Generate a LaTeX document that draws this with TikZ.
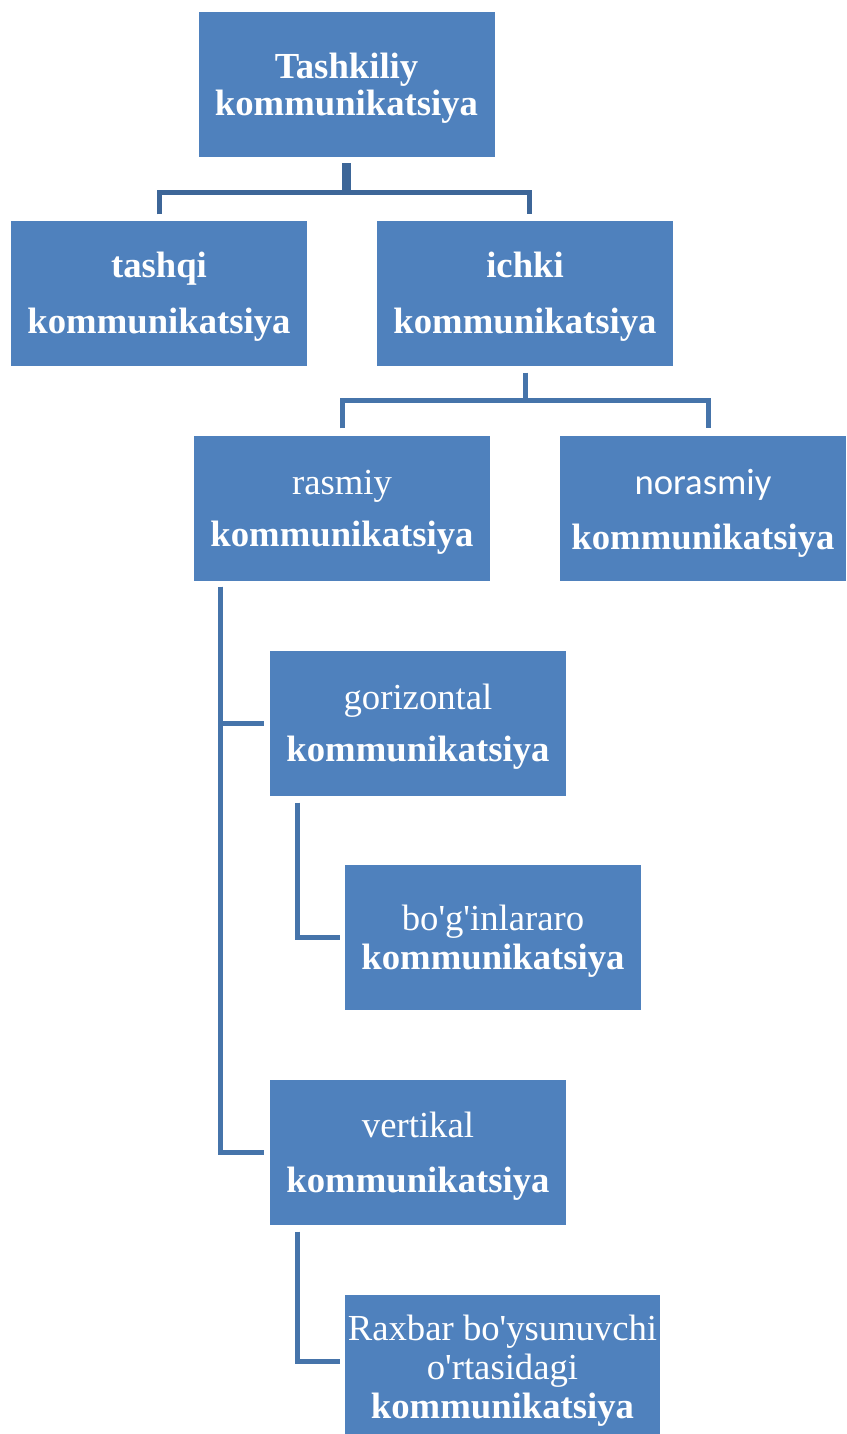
\documentclass[tikz,border=0pt]{standalone}
\usepackage{fontspec}
\setmainfont{Liberation Serif}
\newfontfamily\calibrifont{Carlito}
\definecolor{boxblue}{HTML}{4F81BD}
\definecolor{linkblue}{HTML}{4674AA}
\definecolor{trunkblue}{HTML}{3D6698}
\tikzset{
  box/.style={fill=boxblue, draw=none, text=white, inner sep=0pt,
    minimum width=296pt, minimum height=145pt, align=center,
    font=\fontsize{36.7pt}{#1}\selectfont},
  box/.default=39pt,
  link/.style={draw=linkblue, line width=5pt, line join=miter},
  toplink/.style={draw=trunkblue, line width=5pt, line join=miter},
}
\newcommand{\kw}{\textbf{kommunikatsiya}}
\newcommand{\q}{\textquotesingle}
% invisible strut on the first line, lowers the text block a little
\newcommand{\fl}[1][33pt]{\rule{0pt}{#1}}
\begin{document}
\begin{tikzpicture}[x=1pt,y=-1pt]
\useasboundingbox (0,0) rectangle (846,1434);

% boxes
\node[box=37pt] (top) at (346.5,84.5) {\fl\textbf{Tashkiliy}\\\kw};
\node[box=56pt] (tashqi) at (159,293) {\fl\textbf{tashqi}\\\kw};
\node[box=56pt] (ichki) at (525,293) {\fl\textbf{ichki}\\\kw};
\node[box=52pt] (rasmiy) at (342,508) {\fl rasmiy\\\kw};
\node[box=55pt, minimum width=286pt] (norasmiy) at (703,508) {\fl[35pt]{\calibrifont norasmiy}\\\kw};
\node[box=52pt] (gorizontal) at (418,723) {\fl gorizontal\\\kw};
\node[box=39pt] (bog) at (493,937) {\fl bo\q g\q inlararo\\\kw};
\node[box=55pt] (vertikal) at (418,1152) {\fl vertikal\\\kw};
\node[box=39pt, minimum width=315pt, minimum height=139pt] (raxbar) at (502.5,1364.5)
  {\fl[37pt]Raxbar bo\q ysunuvchi\\o\q rtasidagi\\\kw};

% first level
\coordinate (j1) at (345,192.5);
\draw[toplink, line width=9pt] ([yshift=-6pt]top.south) -- (top.south |- j1);
\draw[toplink] ([xshift=0.5pt,yshift=6pt]tashqi.north) |- (j1)
  -| ([xshift=4.5pt,yshift=6pt]ichki.north);

% second level
\coordinate (j2) at (525,400.5);
\draw[link] ([yshift=-7pt]ichki.south) -- (ichki.south |- j2);
\draw[link] ([xshift=0.5pt,yshift=7pt]rasmiy.north) |- (j2)
  -| ([xshift=5.5pt,yshift=7pt]norasmiy.north);

% formal branch
\draw[link] ([xshift=27pt,yshift=-6pt]rasmiy.south west) |- ([xshift=-6pt]gorizontal.west);
\draw[link] ([xshift=27pt,yshift=-6pt]rasmiy.south west) |- ([xshift=-6pt]vertikal.west);
\draw[link] ([xshift=27.5pt,yshift=-7pt]gorizontal.south west) |- ([xshift=-5pt]bog.west);
\draw[link] ([xshift=27.5pt,yshift=-7pt]vertikal.south west) |- ([xshift=-5pt,yshift=3pt]raxbar.west);
\end{tikzpicture}
\end{document}
